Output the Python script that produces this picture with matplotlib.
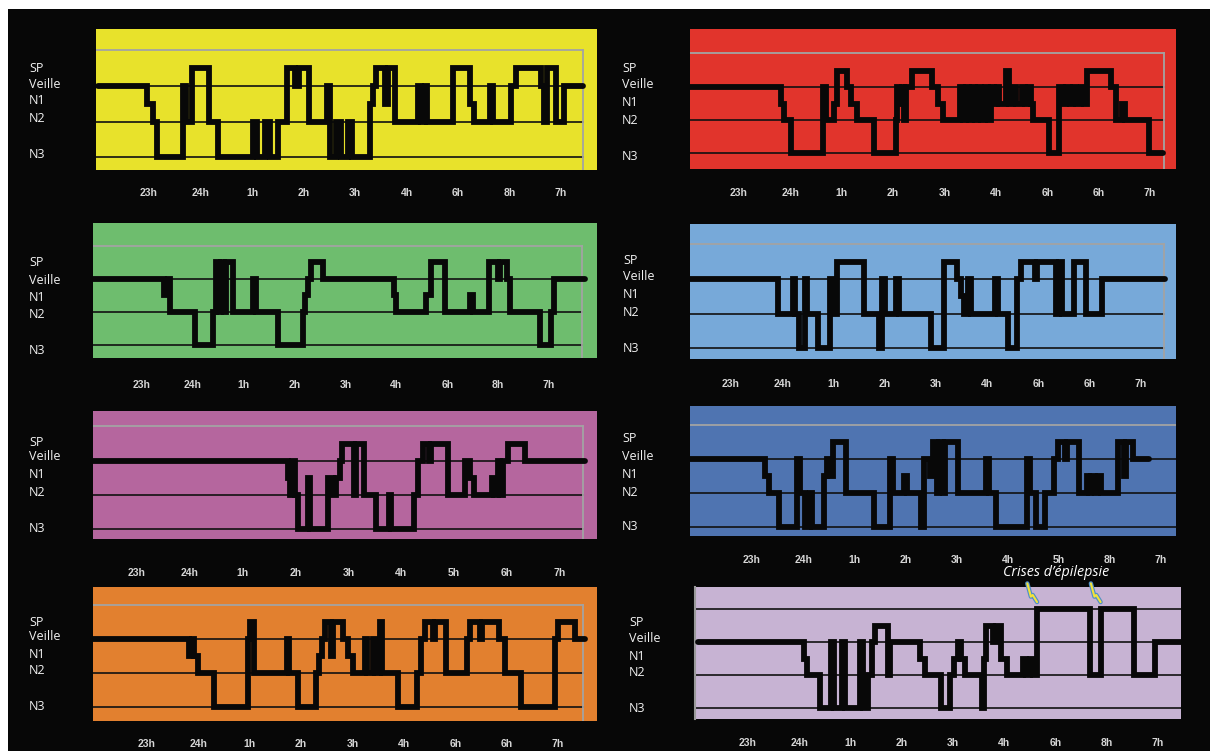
import matplotlib
matplotlib.use('Agg')
import matplotlib.pyplot as plt
from matplotlib.patches import Rectangle
from matplotlib.transforms import blended_transform_factory

# taille de la figure en pixels
W, H = 1210, 751

# niveaux des stades (N3 en bas, crise tout en haut)
STAGE_Y = {'N3': 0, 'N2': 2, 'N1': 3, 'W': 4, 'SP': 5, 'CR': 6}
STAGE_NAMES = ['SP', 'Veille', 'N1', 'N2', 'N3']

# ---- données : temps (heures depuis 22h) et stade ----
yellow_t = [0.0, 0.96, 1.07, 1.15, 1.66, 1.72, 1.84, 2.16, 2.34, 3.02, 3.10, 3.26, 3.34, 3.50, 3.67, 3.84,
            3.91, 4.10, 4.45, 4.52, 4.64, 4.72, 4.86, 4.94, 5.29, 5.34, 5.40, 5.59, 5.65, 5.78, 6.22, 6.28,
            6.35, 6.40, 6.91, 7.23, 7.31, 7.63, 7.68, 8.03, 8.13, 8.61, 8.67, 8.72, 8.91, 9.06, 9.43]
yellow_s = ['W', 'N1', 'N2', 'N3', 'W', 'N2', 'SP', 'N2', 'N3', 'N2', 'N3', 'N2', 'N3', 'N2', 'SP', 'W',
            'SP', 'N2', 'W', 'N3', 'N2', 'N3', 'N2', 'N3', 'N1', 'W', 'SP', 'N1', 'SP', 'N2', 'W', 'N2',
            'W', 'N2', 'SP', 'N1', 'N2', 'W', 'N2', 'W', 'SP', 'W', 'N2', 'SP', 'N2', 'W', 'W']

red_t = [0.0, 1.82, 1.88, 2.01, 2.64, 2.70, 2.85, 2.90, 3.10, 3.18, 3.30, 3.62, 4.05, 4.07, 4.12, 4.18,
         4.22, 4.26, 4.36, 4.75, 4.88, 4.98, 5.30, 5.36, 5.42, 5.48, 5.54, 5.60, 5.66, 5.72, 5.78, 5.84,
         5.90, 5.96, 6.02, 6.06, 6.20, 6.26, 6.34, 6.40, 6.50, 6.56, 6.62, 6.68, 6.73, 7.03, 7.22, 7.31,
         7.36, 7.44, 7.50, 7.56, 7.66, 7.72, 7.78, 8.25, 8.34, 8.46, 8.52, 8.98, 9.26]
red_s = ['W', 'N1', 'N2', 'N3', 'W', 'N2', 'N1', 'SP', 'W', 'N1', 'N2', 'N3', 'N2', 'W', 'N1', 'W',
         'N2', 'W', 'SP', 'W', 'N1', 'N2', 'W', 'N2', 'W', 'N2', 'W', 'N2', 'W', 'N2', 'W', 'N2',
         'W', 'N1', 'W', 'N1', 'SP', 'N1', 'W', 'N1', 'W', 'N1', 'W', 'N1', 'N2', 'N3', 'W', 'N1',
         'W', 'N1', 'W', 'N1', 'W', 'N1', 'SP', 'W', 'N2', 'N1', 'N2', 'N3', 'N3']

green_t = [0.0, 1.44, 1.52, 1.56, 2.05, 2.40, 2.46, 2.52, 2.56, 2.62, 2.66, 2.78, 3.18, 3.24, 3.68, 4.16,
           4.20, 4.26, 4.32, 4.56, 5.95, 6.00, 6.58, 6.68, 6.95, 7.44, 7.50, 7.82, 8.00, 8.04, 8.18, 8.24,
           8.83, 9.04, 9.10, 9.70]
green_s = ['W', 'N1', 'W', 'N2', 'N3', 'N2', 'SP', 'N2', 'SP', 'N2', 'SP', 'N2', 'W', 'N2', 'N3', 'N2',
           'N1', 'W', 'SP', 'W', 'N1', 'N2', 'N1', 'SP', 'N2', 'N1', 'N2', 'SP', 'W', 'SP', 'W', 'N2',
           'N3', 'N2', 'W', 'W']

lblue_t = [0.0, 1.91, 2.20, 2.25, 2.32, 2.44, 2.48, 2.70, 2.93, 2.98, 3.06, 3.60, 3.88, 3.94, 4.00, 4.22,
           4.28, 4.90, 5.15, 5.40, 5.48, 5.54, 5.62, 5.68, 6.15, 6.20, 6.40, 6.58, 6.66, 6.94, 6.98, 7.34,
           7.40, 7.46, 7.70, 7.92, 8.24, 9.47]
lblue_s = ['W', 'N2', 'W', 'N2', 'N3', 'W', 'N2', 'N3', 'W', 'N2', 'SP', 'N2', 'N3', 'W', 'N2', 'W',
           'N2', 'N3', 'SP', 'W', 'N1', 'N2', 'W', 'N2', 'W', 'N2', 'N3', 'W', 'SP', 'W', 'SP', 'N2',
           'SP', 'N2', 'SP', 'N2', 'W', 'W']

mag_t = [0.0, 3.86, 3.90, 3.94, 3.98, 4.04, 4.24, 4.28, 4.62, 4.70, 4.76, 4.84, 4.88, 5.10, 5.14, 5.30,
         5.52, 5.76, 5.80, 6.24, 6.32, 6.40, 6.52, 6.56, 6.88, 7.20, 7.30, 7.38, 7.72, 7.76, 7.82, 7.86,
         7.92, 8.02, 8.34, 9.48]
mag_s = ['W', 'N1', 'N2', 'W', 'N2', 'N3', 'N1', 'N3', 'N1', 'N2', 'N1', 'W', 'SP', 'N2', 'SP', 'N2',
         'N3', 'N2', 'N3', 'N2', 'W', 'SP', 'W', 'SP', 'N2', 'W', 'N1', 'N2', 'N1', 'N2', 'W', 'N2',
         'W', 'SP', 'W', 'W']

dblue_t = [-0.21, 1.26, 1.34, 1.52, 1.88, 1.94, 2.04, 2.14, 2.18, 2.40, 2.46, 2.52, 2.58, 2.84, 3.38, 3.70,
           3.76, 3.98, 4.04, 4.30, 4.36, 4.48, 4.54, 4.62, 4.66, 4.74, 4.78, 5.02, 5.58, 5.64, 5.78, 6.38,
           6.44, 6.56, 6.74, 6.90, 6.98, 7.12, 7.16, 7.40, 7.56, 7.60, 7.64, 7.70, 7.76, 7.82, 8.16, 8.28,
           8.32, 8.46, 8.77]
dblue_s = ['W', 'N1', 'N2', 'N3', 'W', 'N2', 'N3', 'N2', 'N3', 'N1', 'W', 'N1', 'SP', 'N2', 'N3', 'W',
           'N2', 'N1', 'N2', 'N3', 'W', 'N1', 'SP', 'N2', 'SP', 'N2', 'SP', 'N2', 'W', 'N2', 'N3', 'W',
           'N2', 'N3', 'N2', 'W', 'SP', 'W', 'SP', 'N2', 'N1', 'N2', 'N1', 'N2', 'N1', 'N2', 'SP', 'N1',
           'SP', 'W', 'W']

orange_t = [-0.05, 1.82, 1.88, 1.92, 2.00, 2.30, 2.96, 3.00, 3.08, 3.72, 3.76, 3.94, 4.28, 4.34, 4.40, 4.46,
            4.58, 4.62, 4.82, 4.92, 5.00, 5.24, 5.28, 5.40, 5.44, 5.54, 5.58, 5.88, 6.26, 6.34, 6.42, 6.56,
            6.60, 6.82, 7.22, 7.28, 7.48, 7.52, 7.86, 7.96, 8.28, 8.94, 9.00, 9.34, 9.52]
orange_s = ['W', 'N1', 'W', 'N1', 'N2', 'N3', 'W', 'SP', 'N2', 'W', 'N2', 'N3', 'N2', 'N1', 'W', 'SP',
            'N1', 'SP', 'W', 'N1', 'N2', 'W', 'N2', 'W', 'N2', 'SP', 'N2', 'N3', 'N2', 'W', 'SP', 'W',
            'SP', 'N2', 'W', 'SP', 'W', 'SP', 'W', 'N2', 'N3', 'W', 'SP', 'W', 'W']

lilac_t = [0.02, 2.09, 2.15, 2.40, 2.62, 2.68, 2.84, 2.90, 3.18, 3.24, 3.34, 3.42, 3.48, 3.74, 3.78, 4.35,
           4.46, 4.76, 4.94, 5.02, 5.10, 5.16, 5.24, 5.56, 5.60, 5.64, 5.78, 5.84, 5.94, 6.06, 6.36, 6.42,
           6.50, 6.56, 6.64, 7.68, 7.88, 8.54, 8.94, 9.45]
lilac_s = ['W', 'N1', 'N2', 'N3', 'W', 'N3', 'W', 'N3', 'W', 'N3', 'N2', 'W', 'SP', 'N2', 'W', 'N1',
           'N2', 'N3', 'N2', 'N1', 'W', 'N1', 'N2', 'N3', 'N1', 'SP', 'W', 'SP', 'N1', 'N2', 'N1', 'N2',
           'N1', 'N2', 'CR', 'N2', 'CR', 'N2', 'W', 'W']

# étiquettes horaires (telles qu'elles apparaissent sous chaque panneau)
ticks_a = ['23h', '24h', '1h', '2h', '3h', '4h', '6h', '8h', '7h']
ticks_b = ['23h', '24h', '1h', '2h', '3h', '4h', '6h', '6h', '7h']
ticks_c = ['23h', '24h', '1h', '2h', '3h', '4h', '5h', '6h', '7h']
ticks_d = ['23h', '24h', '1h', '2h', '3h', '4h', '5h', '8h', '7h']

# ---- mise en page (pixels) ----
LAYOUT = {
    'yellow': dict(box=(96, 597, 29, 170), line_right=583, frame_top=50, side=True, veille=86, n3=157,
                   t23=149, t7=561, tick_y=193, label_x=29, label_y=[68, 84, 101, 119, 155]),
    'green': dict(box=(93, 597, 223, 358), line_right=582, frame_top=246, side=True, veille=279, n3=345,
                  t23=142, t7=549, tick_y=385, label_x=29, label_y=[262, 280, 298, 315, 351]),
    'magenta': dict(box=(93, 597, 411, 539), line_right=583, frame_top=426, side=True, veille=461, n3=529,
                    t23=137, t7=560, tick_y=573, label_x=29, label_y=[442, 457, 475, 493, 529]),
    'orange': dict(box=(93, 597, 587, 721), line_right=583, frame_top=605, side=True, veille=639, n3=707,
                   t23=147, t7=558, tick_y=744, label_x=29, label_y=[622, 636, 654, 671, 707]),
    'red': dict(box=(690, 1176, 29, 169), line_right=1164, frame_top=53, side=True, veille=87, n3=153,
                t23=739, t7=1150, tick_y=193, label_x=622, label_y=[69, 85, 103, 121, 157]),
    'lblue': dict(box=(690, 1176, 224, 359), line_right=1164, frame_top=244, side=True, veille=279, n3=348,
                  t23=731, t7=1141, tick_y=384, label_x=623, label_y=[261, 277, 294, 312, 348]),
    'dblue': dict(box=(690, 1176, 406, 536), line_right=1176, frame_top=425, side=False, veille=459, n3=527,
                  t23=752, t7=1161, tick_y=560, label_x=622, label_y=[439, 456, 474, 492, 527]),
    'lilac': dict(box=(695, 1181, 587, 719), line_right=1181, frame_top=None, side=False, veille=642, n3=708,
                  t23=748, t7=1158, tick_y=743, label_x=629, label_y=[622, 638, 656, 673, 708],
                  left_border=True),
}


def draw_panel(fig, times, stages, color, lay, ticklabels, extra_levels=()):
    """Dessine un hypnogramme dans une boîte colorée."""
    assert len(times) == len(stages)
    left, right, top, bottom = lay['box']
    ax = fig.add_axes([left / W, 1 - bottom / H, (right - left) / W, (bottom - top) / H])
    ax.set_facecolor(color)
    for name, sp in ax.spines.items():
        sp.set_visible(name == 'left' and lay.get('left_border', False))
        sp.set_color('#9a9a9a')
        sp.set_linewidth(1.5)
    ax.set_xticks([])
    ax.set_yticks([])

    step = (lay['t7'] - lay['t23']) / 8.0
    x0 = 1 + (left - lay['t23']) / step
    x1 = 1 + (right - lay['t23']) / step
    unit = (lay['n3'] - lay['veille']) / 4.0
    y0 = -(bottom - lay['n3']) / unit
    y1 = 4 + (lay['veille'] - top) / unit
    ax.set_xlim(x0, x1)
    ax.set_ylim(y0, y1)

    xr = 1 + (lay['line_right'] - lay['t23']) / step
    # lignes de référence Veille / N2 / N3
    for lv in [0, 2, 4] + list(extra_levels):
        ax.plot([x0, xr], [lv, lv], color='#111111', lw=1.2, zorder=2)
    # cadre gris
    if lay['frame_top'] is not None:
        yf = 4 + (lay['veille'] - lay['frame_top']) / unit
        ax.plot([x0, xr], [yf, yf], color='#a3a3a3', lw=1.3, zorder=2)
        if lay['side']:
            ax.plot([xr, xr], [y0, yf], color='#a3a3a3', lw=1.3, zorder=2)

    ys = [STAGE_Y[s] for s in stages]
    ax.plot(times, ys, drawstyle='steps-post', color='#080808', lw=4.2, zorder=3,
            solid_joinstyle='miter', solid_capstyle='round')

    trans = blended_transform_factory(ax.transData, fig.transFigure)
    for i, lab in enumerate(ticklabels):
        ax.text(i + 1, 1 - lay['tick_y'] / H, lab, transform=trans, ha='center', va='center',
                fontsize=7.5, fontweight='bold', color='#d6d6d6', family='Liberation Sans', clip_on=False)

    for name, yy in zip(STAGE_NAMES, lay['label_y']):
        fig.text(lay['label_x'] / W, 1 - yy / H, name, ha='left', va='center',
                 fontsize=9, color='#f2f2f2', family='Open Sans')
    return ax


def draw_bolt(ax, x_tip, y_tip):
    """Petit éclair jaune pointant vers le début d'une crise."""
    bx = [x_tip - 0.19, x_tip - 0.12, x_tip - 0.085, x_tip]
    by = [y_tip + 1.55, y_tip + 0.75, y_tip + 0.85, y_tip + 0.42]
    ax.plot(bx, by, color='#4f8fc9', lw=3.2, clip_on=False, zorder=5, solid_capstyle='round')
    ax.plot(bx, by, color='#f3e33a', lw=1.5, clip_on=False, zorder=6, solid_capstyle='round')


if __name__ == "__main__":
    fig = plt.figure(figsize=(W / 100, H / 100), dpi=100)
    fig.patch.set_facecolor('white')
    fig.patches.append(Rectangle((8 / W, 0), 1 - 8 / W, 1 - 9 / H, transform=fig.transFigure,
                                 facecolor='#070707', edgecolor='none', zorder=-10))

    draw_panel(fig, yellow_t, yellow_s, '#e8e22b', LAYOUT['yellow'], ticks_a)
    draw_panel(fig, green_t, green_s, '#6ebd6e', LAYOUT['green'], ticks_a)
    draw_panel(fig, mag_t, mag_s, '#b5669e', LAYOUT['magenta'], ticks_c)
    draw_panel(fig, orange_t, orange_s, '#e2802f', LAYOUT['orange'], ticks_b)
    draw_panel(fig, red_t, red_s, '#e1342c', LAYOUT['red'], ticks_b)
    draw_panel(fig, lblue_t, lblue_s, '#77a9d9', LAYOUT['lblue'], ticks_b)
    draw_panel(fig, dblue_t, dblue_s, '#4f74b1', LAYOUT['dblue'], ticks_d)
    ax_l = draw_panel(fig, lilac_t, lilac_s, '#c7b3d3', LAYOUT['lilac'], ticks_a, extra_levels=(6,))

    # crises d'épilepsie
    for t, s in zip(lilac_t, lilac_s):
        if s == 'CR':
            draw_bolt(ax_l, t, STAGE_Y['CR'])
    fig.text(1003 / W, 1 - 573 / H, 'Crises d’épilepsie', ha='left', va='center', style='italic',
             fontsize=10.3, color='white', family='Open Sans')

    fig.savefig('out.png', dpi=100, facecolor=fig.get_facecolor())
